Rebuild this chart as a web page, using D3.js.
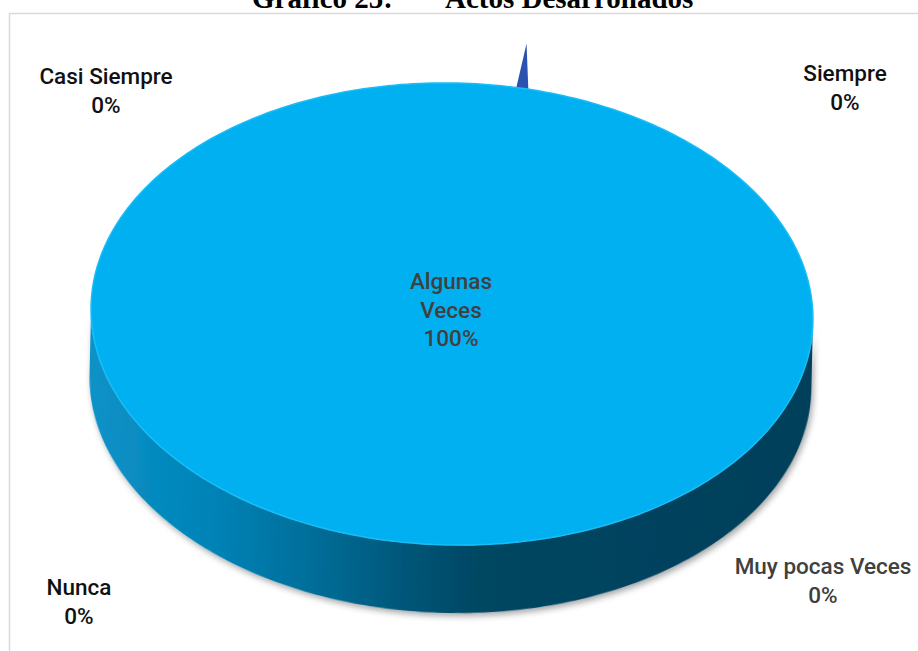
<!DOCTYPE html>
<html>
<head>
<meta charset="utf-8">
<script src="https://cdn.jsdelivr.net/npm/d3@7"></script>
<style>
  html, body { margin: 0; padding: 0; background: #fff; }
  svg { display: block; }
</style>
</head>
<body>
<svg id="chart" width="918" height="651"></svg>
<script>
// ---- data ----
const categories = ["Siempre", "Casi Siempre", "Algunas Veces", "Muy pocas Veces", "Nunca"];
const values = [0, 0, 100, 0, 0];
const percentLabels = ["0%", "0%", "100%", "0%", "0%"];
const titleParts = ["Gráfico 25:", "Actos Desarrollados"];

// ---- layout ----
const W = 918, H = 651;
const cx = 452, cy = 314, rx = 361, ry = 231, depth = 68, tilt = 1.3;
const labelLayout = {
  "Siempre":         {x: 845, y: 81,  fill: "#111", lines: ["Siempre"]},
  "Casi Siempre":    {x: 106, y: 84,  fill: "#111", lines: ["Casi Siempre"]},
  "Algunas Veces":   {x: 451, y: 289, fill: "#404040", lines: ["Algunas", "Veces"]},
  "Muy pocas Veces": {x: 823, y: 574, fill: "#404040", lines: ["Muy pocas Veces"]},
  "Nunca":           {x: 79,  y: 595, fill: "#111", lines: ["Nunca"]}
};
const lineH = 28.5;

const svg = d3.select("#chart");
const defs = svg.append("defs");

const grad = defs.append("linearGradient").attr("id", "sideGrad")
  .attr("gradientUnits", "userSpaceOnUse")
  .attr("x1", cx - rx).attr("x2", cx + rx).attr("y1", 0).attr("y2", 0);
[[0, "#0a92c8"], [0.18, "#0282b6"], [0.32, "#006d98"], [0.45, "#005577"], [0.55, "#004662"], [1, "#00405a"]]
  .forEach(([o, c]) => grad.append("stop").attr("offset", o).attr("stop-color", c));

const shadow = defs.append("filter").attr("id", "shadow")
  .attr("x", "-10%").attr("y", "-10%").attr("width", "120%").attr("height", "130%");
shadow.append("feDropShadow").attr("dx", 2).attr("dy", 3).attr("stdDeviation", 3)
  .attr("flood-color", "#000").attr("flood-opacity", 0.35);

// frame
svg.append("rect").attr("x", 9.5).attr("y", 13.5).attr("width", W + 20).attr("height", H + 20)
  .attr("fill", "none").attr("stroke", "#d9d9d9").attr("stroke-width", 1.5);

// title (clipped at top, as in the reference)
const titleX = [252, 445];
svg.selectAll("text.title").data(titleParts).join("text").attr("class", "title")
  .attr("x", (d, i) => titleX[i]).attr("y", 8)
  .attr("font-family", "'Liberation Serif', 'Times New Roman', serif")
  .attr("font-weight", "bold").attr("font-size", 29).attr("fill", "#000")
  .text(d => d);

// ---- pie ----
const pie = d3.pie().sort(null).startAngle(0).endAngle(2 * Math.PI);
const arcs = pie(values).map((d, i) => ({...d, cat: categories[i]}));

const px = a => cx + rx * Math.sin(a);
const py = (a, dz = 0) => cy - ry * Math.cos(a) + dz;
const line = d3.line().x(d => d[0]).y(d => d[1]);
function samples(a0, a1, n = 180) {
  return d3.range(n + 1).map(k => a0 + (a1 - a0) * k / n);
}

const g = svg.append("g").attr("transform", `rotate(${tilt},${cx},${cy})`);

// sides (front half only)
const sideG = g.append("g").attr("filter", "url(#shadow)");
arcs.forEach(d => {
  const a0 = Math.max(d.startAngle, Math.PI / 2);
  const a1 = Math.min(d.endAngle, 3 * Math.PI / 2);
  if (a1 <= a0) return;
  const top = samples(a0, a1).map(a => [px(a), py(a)]);
  const bot = samples(a1, a0).map(a => [px(a), py(a, depth)]);
  sideG.append("path").attr("d", line(top.concat(bot)) + "Z")
    .attr("fill", "url(#sideGrad)");
});

// zero-value slice artifact (thin sliver at the top edge)
const zeroArcs = arcs.filter(d => d.value === 0);
if (zeroArcs.length) {
  const a = 0.185;
  g.append("path")
    .attr("d", line([[px(a) - 8, py(a) + 3], [px(a) + 2, py(a) - 45], [px(a) + 5, py(a) + 4]]) + "Z")
    .attr("fill", "#2a52ae");
}

// top faces
arcs.filter(d => d.value > 0).forEach(d => {
  const pts = samples(d.startAngle, d.endAngle, 360).map(a => [px(a), py(a)]);
  const full = d.endAngle - d.startAngle >= 2 * Math.PI - 1e-6;
  g.append("path")
    .attr("d", full ? line(pts) + "Z" : `M${cx},${cy}` + line(pts).replace("M", "L") + "Z")
    .attr("fill", "#00b0f0")
    .attr("stroke", "#18bdf6").attr("stroke-width", 1.5);
});

// ---- labels ----
const lab = svg.append("g").attr("font-family", "Roboto, 'DejaVu Sans', sans-serif")
  .attr("font-size", 22.5).attr("font-weight", 500).attr("text-anchor", "middle");
arcs.forEach((d, i) => {
  const L = labelLayout[d.cat];
  const lines = L.lines.concat([percentLabels[i]]);
  const t = lab.append("text").attr("fill", L.fill);
  lines.forEach((s, k) => t.append("tspan").attr("x", L.x).attr("y", L.y + k * lineH).text(s));
});
</script>
</body>
</html>
